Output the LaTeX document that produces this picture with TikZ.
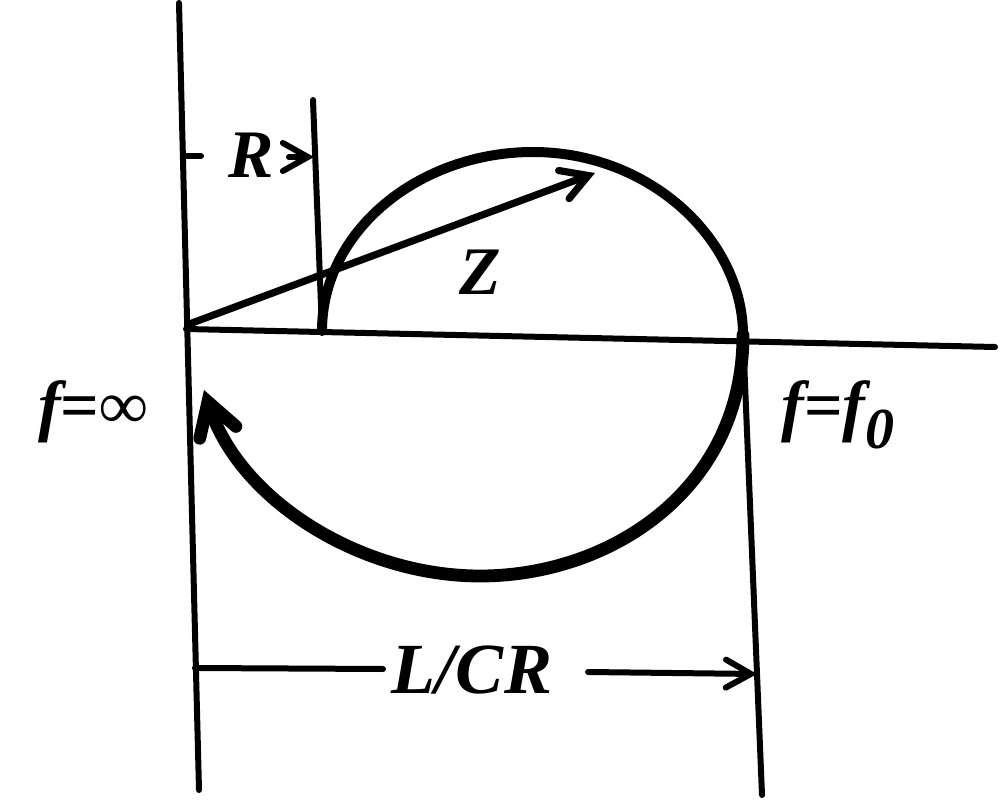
\documentclass[tikz,border=0pt]{standalone}
\usepackage{fontspec}
\setmainfont{Liberation Serif}
\usetikzlibrary{arrows.meta}
\begin{document}
\begin{tikzpicture}[x=0.5pt,y=-0.5pt,
  thinline/.style={line width=3pt, line cap=round},
  upperloop/.style={line width=5pt, line cap=round, line join=round},
  lowerloop/.style={line width=6.4pt, line cap=round, line join=round},
  dimarrow/.style={thinline, -{Straight Barb[length=12.5pt, width=14pt, line cap=round]}},
  zarrow/.style={line width=3.6pt, line cap=round, -{Straight Barb[length=13pt, width=15pt, line cap=round]}},
  looptip/.style={-{Straight Barb[length=16pt, width=19pt, line cap=round]}},
  lab/.style={font=\fontsize{34}{40}\selectfont\bfseries\itshape, inner sep=0pt, anchor=base}]
\useasboundingbox (0,0) rectangle (1006,812);
% reference lines
\coordinate (LT) at (179,3);
\coordinate (LB) at (199,790);
\coordinate (RT) at (313,100);
\coordinate (RB) at (322,331);
\coordinate (AL) at (186,329);
\coordinate (AR) at (995,347);
\coordinate (FT) at (743,335);
\coordinate (FB) at (762,795);
\draw[thinline] (LT) -- (LB);
\draw[thinline] (RT) -- (RB);
\draw[thinline] (AL) -- (AR);
\draw[thinline] (FT) -- (FB);
% R dimension
\coordinate (Rt1) at (183,156);
\coordinate (Rt2) at (201,156);
\coordinate (Ra1) at (289,157);
\coordinate (Ra2) at (314,157);
\draw[thinline] (Rt1) -- (Rt2);
\draw[dimarrow] (Ra1) -- (Ra2);
\node[lab] (Rlab) at (251,178) {R};
% Z vector
\coordinate (Z0) at (192,323);
\coordinate (Z1) at (595,173);
\draw[zarrow] (Z0) -- (Z1);
\node[lab] (Zlab) at (480,295) {Z};
% impedance locus
\coordinate (P0) at (322,331);
\coordinate (P1) at (533,152);
\coordinate (P2) at (743,335);
\coordinate (P3) at (480,576);
\coordinate (P4) at (204,390);
\draw[upperloop] (P0) .. controls (322,230) and (420,152) .. (P1)
                      .. controls (650,152) and (743,240) .. (P2);
\draw[lowerloop, looptip] (P2) .. controls (743,490) and (610,576) .. (P3)
                      .. controls (360,576) and (240,500) .. (P4);
% frequency labels
\node[lab] (finf) at (93,429) {f{\upshape =∞}};
\node[lab] (ff0) at (838,429) {f{\upshape =}f\raisebox{-9.5pt}{\fontsize{29}{30}\selectfont 0}};
% L/CR dimension
\coordinate (D1) at (195,668);
\coordinate (D2) at (383,669);
\coordinate (D3) at (588,672);
\coordinate (D4) at (757,674);
\draw[thinline] (D1) -- (D2);
\draw[dimarrow] (D3) -- (D4);
\node[lab, font=\fontsize{36}{40}\selectfont\bfseries\itshape] (LCR) at (472,693) {L/CR};
\end{tikzpicture}
\end{document}
